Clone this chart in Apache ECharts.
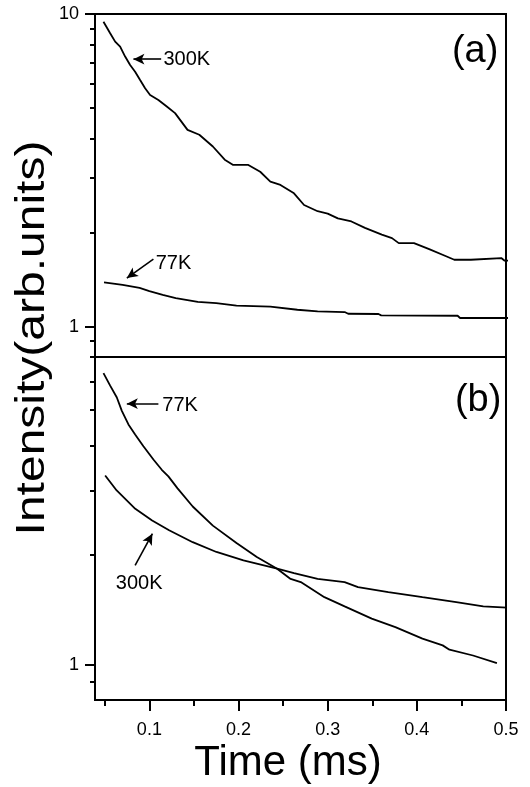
<!DOCTYPE html>
<html>
<head>
<meta charset="utf-8">
<script src="https://cdn.jsdelivr.net/npm/echarts@6/dist/echarts.min.js"></script>
<style>html,body{margin:0;padding:0;background:#fff}#c{width:530px;height:787px}</style>
</head>
<body>
<div id="c"></div>
<script>
// ---- data (Time in ms, Intensity in arb. units) ----
const timeA300 = [0.0485,0.056,0.0616,0.0672,0.0728,0.0784,0.084,0.0896,0.0952,0.1008,0.1101,0.1195,0.1288,0.1428,0.156,0.1712,0.1845,0.194,0.211,0.2243,0.2357,0.247,0.2622,0.2735,0.2887,0.30,0.3114,0.3266,0.3418,0.3607,0.3721,0.3797,0.3968,0.4138,0.4328,0.442,0.4606,0.4625,0.4947,0.4985,0.5055];
const valA300  = [9.45,8.68,8.16,7.86,7.31,6.87,6.54,6.15,5.79,5.51,5.31,5.06,4.82,4.26,4.11,3.77,3.42,3.29,3.29,3.13,2.91,2.84,2.67,2.45,2.34,2.30,2.22,2.17,2.07,1.97,1.92,1.85,1.85,1.77,1.68,1.637,1.637,1.658,1.658,1.626,1.626];
const timeA77  = [0.0491,0.07,0.089,0.1,0.115,0.1296,0.1543,0.175,0.1977,0.2357,0.266,0.2887,0.319,0.323,0.357,0.36,0.4457,0.4485,0.5055];
const valA77   = [1.385,1.36,1.33,1.30,1.265,1.235,1.2,1.19,1.167,1.16,1.133,1.119,1.114,1.10,1.098,1.087,1.084,1.066,1.066];
const timeB77  = [0.0485,0.056,0.0635,0.0691,0.0765,0.084,0.0933,0.1045,0.1139,0.1213,0.1316,0.1486,0.1712,0.1977,0.2205,0.2433,0.2584,0.2698,0.2963,0.319,0.3494,0.3759,0.4063,0.429,0.4366,0.463,0.4898];
const valB77   = [6.32,5.84,5.42,4.98,4.57,4.29,3.98,3.66,3.43,3.29,3.05,2.72,2.41,2.16,1.975,1.835,1.72,1.686,1.533,1.446,1.338,1.268,1.179,1.13,1.10,1.06,1.01];
const timeB300 = [0.0504,0.0633,0.0842,0.1031,0.1221,0.1486,0.1752,0.2055,0.2433,0.2622,0.2887,0.319,0.334,0.368,0.4063,0.4442,0.4745,0.501];
const valB300  = [3.31,3.01,2.68,2.49,2.34,2.17,2.04,1.934,1.835,1.785,1.72,1.686,1.633,1.583,1.533,1.486,1.446,1.434];

// axis ticks
const xMajorTicks = [0.1,0.2,0.3,0.4,0.5];
const xMinorTicks = [0.05,0.15,0.25,0.35,0.45];
const yMajorA = [1,10];
const yMinorA = [0.9,2,3,4,5,6,7,8,9];
const yMajorB = [1];
const yMinorB = [0.9,2,3,4,5,6,7];

// annotations: arrow [tailT, tailV, tipT, tipV], text centre [t, v]
const arrowA300 = [0.1132,7.17,0.0821,7.17]; const textA300 = [0.142,7.17];
const arrowA77  = [0.1045,1.645,0.0747,1.43]; const textA77 = [0.1271,1.597];
const arrowB77  = [0.1101,5.21,0.0747,5.21]; const textB77 = [0.1344,5.16];
const arrowB300 = [0.084,1.875,0.1034,2.29]; const textB300 = [0.0885,1.669];
const panelA = [0.4654,7.59]; const panelB = [0.4688,5.31];

const FONT = 'Liberation Sans, Arial, sans-serif';
const zip = (a,b) => a.map((t,i)=>[t,b[i]]);

function arrow(a){
  return [{coord:[a[0],a[1]], symbol:'none'},{coord:[a[2],a[3]], symbol:'arrow', symbolSize:[8,11]}];
}
function txt(p, s, size){
  return {coord:p, symbol:'circle', symbolSize:0,
    label:{show:true, position:'inside', formatter:s, color:'#000', fontSize:size, fontFamily:FONT}};
}

const LEFT=95, WIDTH=411, TOP=14, H=343;
const chart = echarts.init(document.getElementById('c'), null, {renderer:'canvas'});

function yAxisPair(gi, min, max, major, minor){
  return [
    {type:'log', logBase:10, gridIndex:gi, position:'left', min:min, max:max,
     axisLine:{show:true, lineStyle:{color:'#000', width:2}},
     axisTick:{show:true, inside:false, length:10, lineStyle:{color:'#000', width:2}, customValues:major},
     axisLabel:{show:true, customValues:major, color:'#000', fontSize:18, fontFamily:FONT, margin:16,
       formatter:v=>String(Math.round(v*100)/100)},
     splitLine:{show:false}, minorTick:{show:false}},
    {type:'log', logBase:10, gridIndex:gi, position:'left', min:min, max:max,
     axisLine:{show:false},
     axisTick:{show:true, inside:false, length:5, lineStyle:{color:'#000', width:2}, customValues:minor},
     axisLabel:{show:false}, splitLine:{show:false}}
  ];
}

const lineStyle = {color:'#000', width:1.8};
function lineSeries(xi, yi, data, extra){
  return Object.assign({type:'line', xAxisIndex:xi, yAxisIndex:yi, data:data,
    showSymbol:false, symbol:'none', clip:false, lineStyle:lineStyle, silent:true, z:3}, extra||{});
}
function marks(arrows, texts){
  return {
    markLine:{silent:true, symbol:['none','arrow'], lineStyle:{color:'#000', width:1.6, type:'solid'},
      label:{show:false}, data:arrows.map(arrow), animation:false},
    markPoint:{silent:true, data:texts, animation:false}
  };
}

const option = {
  animation:false,
  backgroundColor:'#fff',
  grid:[
    {left:LEFT, top:TOP, width:WIDTH, height:H, show:true, borderColor:'#000', borderWidth:2, backgroundColor:'transparent'},
    {left:LEFT, top:TOP+H, width:WIDTH, height:H, show:true, borderColor:'#000', borderWidth:2, backgroundColor:'transparent'}
  ],
  xAxis:[
    {type:'value', gridIndex:0, min:0.039, max:0.5, show:false},
    {type:'value', gridIndex:1, min:0.039, max:0.5, position:'bottom',
     axisLine:{show:true, onZero:false, lineStyle:{color:'#000', width:2}},
     axisTick:{show:true, length:11, lineStyle:{color:'#000', width:2}, customValues:xMajorTicks},
     axisLabel:{show:true, customValues:xMajorTicks, color:'#000', fontSize:18, fontFamily:FONT, margin:21,
       formatter:v=>v.toFixed(1)},
     splitLine:{show:false}},
    {type:'value', gridIndex:1, min:0.039, max:0.5, position:'bottom',
     axisLine:{show:false, onZero:false},
     axisTick:{show:true, length:6, lineStyle:{color:'#000', width:2}, customValues:xMinorTicks},
     axisLabel:{show:false}, splitLine:{show:false}}
  ],
  yAxis:[].concat(
    yAxisPair(0, 0.8, 10, yMajorA, yMinorA),
    yAxisPair(1, 0.8, 7, yMajorB, yMinorB)
  ),
  graphic:[
    {type:'text', x:33, y:338, rotation:Math.PI/2, scaleX:1.2, scaleY:1,
     style:{text:'Intensity(arb.units)', fontSize:40, fontFamily:FONT, fill:'#000',
       textAlign:'center', textVerticalAlign:'middle'}},
    {type:'text', x:288, y:742,
     style:{text:'Time (ms)', fontSize:42, fontFamily:FONT, fill:'#000',
       textAlign:'center', textVerticalAlign:'top'}}
  ],
  series:[
    lineSeries(0, 0, zip(timeA300,valA300), marks([arrowA300],[txt(textA300,'300K',20), txt(panelA,'(a)',38)])),
    lineSeries(0, 0, zip(timeA77,valA77), marks([arrowA77],[txt(textA77,'77K',20)])),
    lineSeries(1, 2, zip(timeB77,valB77), marks([arrowB77],[txt(textB77,'77K',20), txt(panelB,'(b)',38)])),
    lineSeries(1, 2, zip(timeB300,valB300), marks([arrowB300],[txt(textB300,'300K',20)]))
  ]
};
chart.setOption(option);
</script>
</body>
</html>
